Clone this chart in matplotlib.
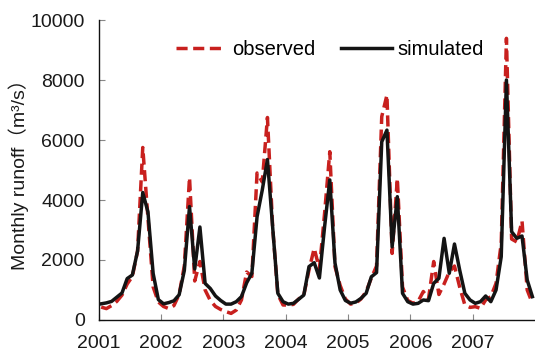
import matplotlib
matplotlib.use("Agg")
import matplotlib.pyplot as plt
import numpy as np

years = ["2001", "2002", "2003", "2004", "2005", "2006", "2007"]

observed = [
    430, 380, 480, 620, 830, 1200, 1450, 2300, 5750, 3400, 1100, 600,      # 2001
    450, 380, 480, 850, 1800, 4750, 1300, 1950, 1000, 650, 450, 350,       # 2002
    280, 220, 330, 670, 1600, 1450, 4900, 4600, 6750, 3100, 850, 500,      # 2003
    500, 520, 700, 830, 1670, 2390, 1700, 3560, 5610, 1780, 1150, 700,     # 2004
    530, 560, 700, 950, 1400, 1800, 6780, 7500, 2220, 4720, 1100, 650,     # 2005
    560, 620, 950, 700, 1950, 850, 1200, 1600, 1800, 1100, 500, 420,       # 2006
    444, 389, 667, 778, 1222, 2556, 9389, 2700, 2600, 3300, 1000, 556,     # 2007
]

simulated = [
    540, 570, 620, 760, 900, 1380, 1500, 2300, 4250, 3600, 1550, 680,      # 2001
    540, 580, 640, 840, 1650, 3780, 1700, 3100, 1220, 1050, 800, 650,      # 2002
    530, 530, 610, 780, 1240, 1560, 3440, 4330, 5350, 3100, 890, 610,      # 2003
    530, 555, 690, 830, 1780, 1910, 1400, 3110, 4670, 1900, 1000, 650,     # 2004
    560, 600, 720, 890, 1440, 1580, 5940, 6330, 2440, 4110, 890, 610,      # 2005
    530, 555, 667, 644, 1222, 1389, 2722, 1556, 2533, 1667, 889, 667,      # 2006
    556, 611, 800, 611, 1000, 2111, 8000, 2944, 2722, 2800, 1333, 778,     # 2007
]

plt.rcParams['font.family'] = ['Liberation Sans', 'Noto Sans CJK SC', 'DejaVu Sans']

fig = plt.figure(figsize=(5.35, 3.53), dpi=100)
ax = fig.add_axes([0.1843, 0.0935, 0.8157, 0.8498])

x = np.arange(len(observed)) + 0.5
ax.plot(x, observed, color='#c8201e', lw=2.5, linestyle=(0, (3.2, 1.6)),
        label='observed', zorder=2)
ax.plot(x, simulated, color='#141414', lw=2.5, label='simulated', zorder=3)

ax.set_xlim(0, 84)
ax.set_ylim(0, 10000)
ax.set_xticks(np.arange(len(years)) * 12)
ax.set_xticklabels(years)
ax.set_yticks(np.arange(0, 10001, 2000))
ax.tick_params(direction='in', length=4, width=0.8, colors='#888888',
               labelcolor='#1a1a1a', labelsize=14)
ax.tick_params(axis='y', pad=10)
ax.tick_params(axis='x', pad=11)
for s in ['top', 'right']:
    ax.spines[s].set_visible(False)
for s in ['left', 'bottom']:
    ax.spines[s].set_linewidth(1.0)
    ax.spines[s].set_color('#111111')

ax.set_ylabel('Monthly runoff（m³/s）', fontsize=14, color='#1a1a1a', labelpad=1)

ax.legend(loc='upper center', bbox_to_anchor=(0.53, 0.975), ncol=2, frameon=False,
          fontsize=14.5, handlelength=2.5, handletextpad=0.3, columnspacing=1.3,
          borderaxespad=0.2)

fig.savefig('out.png', dpi=100)
